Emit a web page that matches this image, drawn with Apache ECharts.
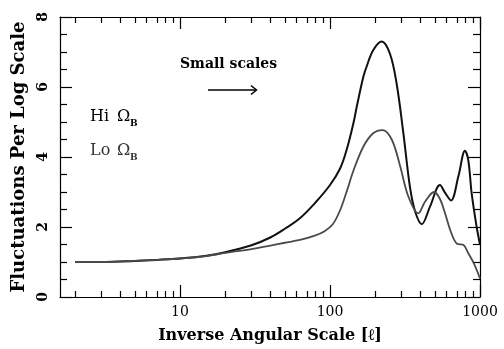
<!DOCTYPE html>
<html>
<head>
<meta charset="utf-8">
<script src="https://cdn.jsdelivr.net/npm/echarts@6/dist/echarts.min.js"></script>
<style>
  html, body { margin: 0; padding: 0; background: #ffffff; }
  #chart { width: 504px; height: 349px; }
</style>
</head>
<body>
<div id="chart"></div>
<script>
// Multipole samples (inverse angular scale l) and fluctuation power per log scale
const hiEll   = [2, 3, 5, 7, 10, 15, 20, 30, 40, 50, 63, 80, 100, 117, 129, 143, 151, 167, 176, 194, 221, 251, 278, 308, 341, 369, 409, 464, 541, 584, 641, 717, 794, 836, 880, 950, 1000];
const hiPower = [1.0, 1.0, 1.03, 1.06, 1.1, 1.18, 1.28, 1.48, 1.7, 1.95, 2.25, 2.7, 3.2, 3.68, 4.2, 4.95, 5.45, 6.3, 6.6, 7.05, 7.3, 6.95, 6.1, 4.7, 3.15, 2.45, 2.08, 2.58, 3.2, 2.98, 2.76, 3.44, 4.18, 3.9, 2.96, 2.0, 1.5];

const loEll   = [2, 3, 5, 7, 10, 15, 20, 30, 40, 50, 63, 80, 92, 104, 116, 130, 143, 167, 194, 224, 258, 293, 333, 388, 430, 494, 541, 584, 641, 703, 774, 836, 910, 1000];
const loPower = [1.0, 1.0, 1.03, 1.06, 1.1, 1.17, 1.26, 1.37, 1.47, 1.55, 1.63, 1.76, 1.88, 2.07, 2.45, 3.05, 3.6, 4.3, 4.68, 4.77, 4.5, 3.75, 2.87, 2.39, 2.72, 3.0, 2.8, 2.4, 1.85, 1.52, 1.49, 1.25, 0.96, 0.53];

// Axis ticks
const majorTicks = [10, 100, 1000];
const minorTicks = [2, 3, 4, 5, 6, 7, 8, 9, 20, 30, 40, 50, 60, 70, 80, 90, 200, 300, 400, 500, 600, 700, 800, 900];
const xMin = 1.585;   // 10^0.2
const xMax = 1000;

const pairs = (xs, ys) => xs.map((x, i) => [x, ys[i]]);

const serif = 'DejaVu Serif';
const ink = '#000000';

function xAxisDef(position, ticks, len, withLabels, withLine) {
  return {
    type: 'log', logBase: 10, min: xMin, max: xMax, position: position,
    axisLine: { show: withLine, onZero: false, lineStyle: { color: ink, width: 1.2 } },
    axisTick: { show: true, inside: true, length: len, customValues: ticks, lineStyle: { color: ink, width: 1.2 } },
    axisLabel: withLabels ? {
      show: true, customValues: majorTicks, margin: 8,
      formatter: (v) => String(Math.round(v)),
      fontFamily: serif, fontSize: 14, color: ink
    } : { show: false },
    splitLine: { show: false }
  };
}

function yAxisDef(position, withLabels) {
  return {
    type: 'value', min: 0, max: 8, interval: 2, position: position,
    axisLine: { show: true, onZero: false, lineStyle: { color: ink, width: 1.2 } },
    axisTick: { show: true, inside: true, length: 12, lineStyle: { color: ink, width: 1.2 } },
    minorTick: { show: true, splitNumber: 4, length: 7, lineStyle: { color: ink, width: 1.2 } },
    axisLabel: withLabels ? {
      show: true, rotate: 90, margin: 10,
      fontFamily: serif, fontWeight: 'bold', fontSize: 14, color: ink
    } : { show: false },
    splitLine: { show: false },
    minorSplitLine: { show: false }
  };
}

const bottomAxis = xAxisDef('bottom', majorTicks, 12, true, true);
bottomAxis.name = 'Inverse Angular Scale [\u2113]';
bottomAxis.nameLocation = 'middle';
bottomAxis.nameGap = 31;
bottomAxis.nameTextStyle = { fontFamily: serif, fontWeight: 'bold', fontSize: 16, color: ink };

const leftAxis = yAxisDef('left', true);
leftAxis.name = 'Fluctuations Per Log Scale';
leftAxis.nameLocation = 'middle';
leftAxis.nameGap = 30;
leftAxis.nameTextStyle = { fontFamily: serif, fontWeight: 'bold', fontSize: 18, color: ink };

const chart = echarts.init(document.getElementById('chart'), null, { renderer: 'canvas' });

chart.setOption({
  animation: false,
  backgroundColor: '#ffffff',
  grid: { left: 60, right: 24, top: 17, bottom: 52, containLabel: false },
  xAxis: [
    bottomAxis,
    xAxisDef('bottom', minorTicks, 6, false, false),
    xAxisDef('top', majorTicks, 12, false, true),
    xAxisDef('top', minorTicks, 6, false, false)
  ],
  yAxis: [
    leftAxis,
    yAxisDef('right', false)
  ],
  series: [
    {
      name: 'Hi', type: 'line', xAxisIndex: 0, yAxisIndex: 0,
      data: pairs(hiEll, hiPower), smooth: 0.35, showSymbol: false, clip: true,
      lineStyle: { color: '#111111', width: 2 }
    },
    {
      name: 'Lo', type: 'line', xAxisIndex: 0, yAxisIndex: 0,
      data: pairs(loEll, loPower), smooth: 0.35, showSymbol: false, clip: true,
      lineStyle: { color: '#4a4a4a', width: 1.8 }
    }
  ],
  graphic: [
    { type: 'text', left: 180, top: 57, style: { text: 'Small scales', fontFamily: serif, fontWeight: 'bold', fontSize: 14, fill: ink } },
    { type: 'polyline', shape: { points: [[208, 90], [256, 90]] }, style: { stroke: ink, lineWidth: 1.3, fill: null } },
    { type: 'polyline', shape: { points: [[251, 85.5], [256.5, 90], [251, 94.5]] }, style: { stroke: ink, lineWidth: 1.5, fill: null } },

    { type: 'text', x: 90, y: 117, style: { text: 'Hi', fontFamily: serif, fontSize: 16, fill: ink, verticalAlign: 'middle' } },
    { type: 'text', x: 117, y: 117, style: { text: '\u03A9', fontFamily: serif, fontSize: 16, fill: ink, verticalAlign: 'middle' } },
    { type: 'text', x: 130, y: 124, style: { text: 'B', fontFamily: serif, fontWeight: 'bold', fontSize: 9, fill: ink, verticalAlign: 'middle' } },

    { type: 'text', x: 90, y: 151, style: { text: 'Lo', fontFamily: serif, fontSize: 16, fill: '#333333', verticalAlign: 'middle' } },
    { type: 'text', x: 117, y: 151, style: { text: '\u03A9', fontFamily: serif, fontSize: 16, fill: '#333333', verticalAlign: 'middle' } },
    { type: 'text', x: 130, y: 158, style: { text: 'B', fontFamily: serif, fontWeight: 'bold', fontSize: 9, fill: '#333333', verticalAlign: 'middle' } }
  ]
});
</script>
</body>
</html>
